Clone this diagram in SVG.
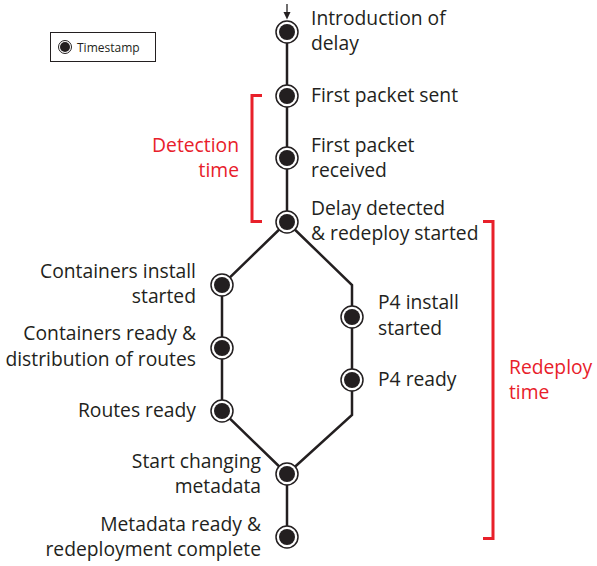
<svg xmlns="http://www.w3.org/2000/svg" width="597" height="566" viewBox="0 0 597 566">
  <style>
    .lbl { font-family: "Open Sans", "Liberation Sans", sans-serif; font-size: 19.3px; fill: #231f20; }
    .red { font-family: "Open Sans", "Liberation Sans", sans-serif; font-size: 19.3px; fill: #e8202a; }
    .edge { fill: none; stroke: #231f20; stroke-width: 2.5; stroke-linejoin: miter; }
    .bracket { fill: none; stroke: #e8202a; stroke-width: 3; }
    .ring { fill: #ffffff; stroke: #231f20; stroke-width: 1.5; }
    .dot { fill: #231f20; }
  </style>
  <defs>
    <g id="ts">
      <circle class="ring" r="11"/>
      <circle class="dot" r="8"/>
    </g>
  </defs>
  <rect width="597" height="566" fill="#ffffff"/>

  <!-- legend -->
  <g id="legend">
    <rect x="50.5" y="32.5" width="105" height="29" fill="#ffffff" stroke="#231f20" stroke-width="1"/>
    <circle cx="65" cy="47" r="6.5" fill="#ffffff" stroke="#231f20" stroke-width="1"/>
    <circle cx="65" cy="47" r="5" fill="#231f20"/>
    <text x="77" y="51.5" class="lbl" style="font-size:12px">Timestamp</text>
  </g>

  <!-- connectors -->
  <g id="connectors">
    <line x1="287" y1="4" x2="287" y2="14" stroke="#231f20" stroke-width="1.3"/>
    <path d="M283.5,12 L290.5,12 L287,19.5 Z" fill="#231f20"/>
    <polyline class="edge" points="287,32 287,222"/>
    <polyline class="edge" points="287,222 222,285 222,411 287,474"/>
    <polyline class="edge" points="287,222 352,285 352,415 287,474"/>
    <polyline class="edge" points="287,474 287,537"/>
  </g>

  <!-- timeline nodes -->
  <g id="n-intro"><use href="#ts" x="287" y="32"/>
    <text class="lbl" x="311" y="25">Introduction of</text>
    <text class="lbl" x="311" y="50">delay</text></g>
  <g id="n-sent"><use href="#ts" x="287" y="96"/>
    <text class="lbl" x="311" y="102">First packet sent</text></g>
  <g id="n-received"><use href="#ts" x="287" y="158"/>
    <text class="lbl" x="311" y="152">First packet</text>
    <text class="lbl" x="311" y="177">received</text></g>
  <g id="n-detected"><use href="#ts" x="287" y="222"/>
    <text class="lbl" x="311" y="215">Delay detected</text>
    <text class="lbl" x="311" y="240">&amp; redeploy started</text></g>
  <g id="n-cinstall"><use href="#ts" x="222" y="285"/>
    <text class="lbl" x="196" y="278" text-anchor="end">Containers install</text>
    <text class="lbl" x="196" y="303" text-anchor="end">started</text></g>
  <g id="n-cready"><use href="#ts" x="222" y="348"/>
    <text class="lbl" x="196" y="340" text-anchor="end">Containers ready &amp;</text>
    <text class="lbl" x="196" y="366" text-anchor="end">distribution of routes</text></g>
  <g id="n-routes"><use href="#ts" x="222" y="411"/>
    <text class="lbl" x="196" y="417" text-anchor="end">Routes ready</text></g>
  <g id="n-p4install"><use href="#ts" x="352" y="317"/>
    <text class="lbl" x="378" y="309">P4 install</text>
    <text class="lbl" x="378" y="335">started</text></g>
  <g id="n-p4ready"><use href="#ts" x="352" y="380"/>
    <text class="lbl" x="378" y="386">P4 ready</text></g>
  <g id="n-meta"><use href="#ts" x="287" y="474"/>
    <text class="lbl" x="261" y="468" text-anchor="end">Start changing</text>
    <text class="lbl" x="261" y="493" text-anchor="end">metadata</text></g>
  <g id="n-complete"><use href="#ts" x="287" y="537"/>
    <text class="lbl" x="261" y="531" text-anchor="end">Metadata ready &amp;</text>
    <text class="lbl" x="261" y="556" text-anchor="end">redeployment complete</text></g>

  <!-- interval brackets -->
  <g id="detection-time">
    <polyline class="bracket" points="262,95.5 252,95.5 252,221.5 262,221.5"/>
    <text class="red" x="239" y="152" text-anchor="end">Detection</text>
    <text class="red" x="239" y="177" text-anchor="end">time</text>
  </g>
  <g id="redeploy-time">
    <polyline class="bracket" points="483,221.5 493,221.5 493,538.5 483,538.5"/>
    <text class="red" x="509" y="374">Redeploy</text>
    <text class="red" x="509" y="399">time</text>
  </g>
</svg>
